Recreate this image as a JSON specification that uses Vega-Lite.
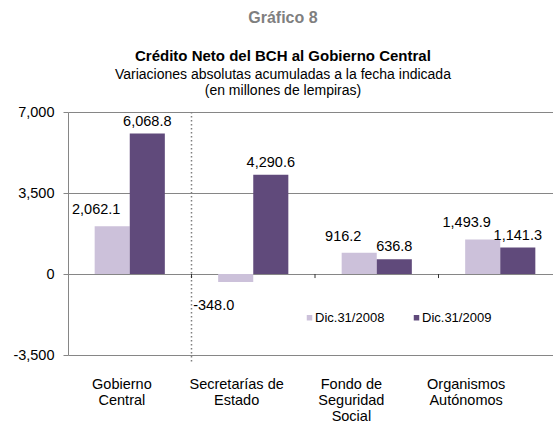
{
  "$schema": "https://vega.github.io/schema/vega-lite/v6.json",
  "padding": {"left": 12, "top": 10, "right": 0, "bottom": 0},
  "config": {
    "font": "Liberation Sans",
    "view": {"stroke": null},
    "locale": {"number": {"decimal": ".", "thousands": ",", "grouping": [3], "currency": ["$", ""], "minus": "-"}}
  },
  "title": {
    "text": "Gráfico 8",
    "font": "Liberation Sans",
    "fontSize": 16,
    "fontWeight": "bold",
    "color": "#7f7f7f",
    "anchor": "middle",
    "frame": "bounds",
    "offset": 23
  },
  "datasets": {
    "credito": [
      {"cat": "Gobierno Central", "serie": "Dic.31/2008", "value": 2062.1},
      {"cat": "Gobierno Central", "serie": "Dic.31/2009", "value": 6068.8},
      {"cat": "Secretarías de Estado", "serie": "Dic.31/2008", "value": -348.0},
      {"cat": "Secretarías de Estado", "serie": "Dic.31/2009", "value": 4290.6},
      {"cat": "Fondo de Seguridad Social", "serie": "Dic.31/2008", "value": 916.2},
      {"cat": "Fondo de Seguridad Social", "serie": "Dic.31/2009", "value": 636.8},
      {"cat": "Organismos Autónomos", "serie": "Dic.31/2008", "value": 1493.9},
      {"cat": "Organismos Autónomos", "serie": "Dic.31/2009", "value": 1141.3}
    ],
    "separador": [{"cat": "Gobierno Central"}],
    "marcas": [
      {"cat": "Secretarías de Estado"},
      {"cat": "Fondo de Seguridad Social"},
      {"cat": "Organismos Autónomos"}
    ]
  },
  "vconcat": [
    {
      "width": 485,
      "height": 243,
      "title": {
        "text": "Crédito Neto del BCH al Gobierno Central",
        "subtitle": ["Variaciones absolutas acumuladas a la fecha indicada", "(en millones de lempiras)"],
        "fontSize": 15,
        "fontWeight": "bold",
        "color": "black",
        "subtitleFontSize": 14,
        "subtitleColor": "black",
        "subtitleLineHeight": 16,
        "subtitlePadding": 4,
        "anchor": "middle",
        "frame": "bounds",
        "offset": 6
      },
      "data": {"name": "credito"},
      "resolve": {"scale": {"x": "independent"}},
      "layer": [
        {
          "encoding": {
            "x": {
              "field": "cat",
              "type": "nominal",
              "scale": {
                "domain": ["Gobierno Central", "Secretarías de Estado", "Fondo de Seguridad Social", "Organismos Autónomos"],
                "range": [0, 494],
                "paddingInner": 0,
                "paddingOuter": 0
              },
              "axis": null
            }
          },
          "layer": [
            {
              "mark": {"type": "bar"},
              "encoding": {
                "xOffset": {
                  "field": "serie",
                  "type": "nominal",
                  "scale": {"domain": ["Dic.31/2008", "Dic.31/2009"], "paddingInner": 0, "paddingOuter": 0.76}
                },
                "y": {
                  "field": "value",
                  "type": "quantitative",
                  "scale": {"domain": [-3500, 7000], "nice": false, "zero": false},
                  "axis": {
                    "title": null,
                    "values": [-3500, 0, 3500, 7000],
                    "format": ",.0f",
                    "labelFontSize": 14.5,
                    "labelColor": "black",
                    "labelPadding": 9,
                    "tickSize": 5,
                    "tickColor": "#868686",
                    "domainColor": "#868686",
                    "gridColor": "#868686",
                    "grid": true
                  }
                },
                "color": {
                  "field": "serie",
                  "type": "nominal",
                  "scale": {"domain": ["Dic.31/2008", "Dic.31/2009"], "range": ["#CCC1DA", "#604A7B"]},
                  "legend": {
                    "title": null,
                    "orient": "none",
                    "legendX": 235,
                    "legendY": 199,
                    "direction": "horizontal",
                    "symbolType": "square",
                    "symbolSize": 30,
                    "symbolStrokeWidth": 0,
                    "labelFontSize": 13,
                    "labelColor": "black",
                    "labelOffset": -1,
                    "columnPadding": 25,
                    "padding": 0
                  }
                }
              }
            },
            {
              "data": {"name": "separador"},
              "mark": {"type": "rule", "color": "#7f7f7f", "strokeWidth": 1.5, "strokeDash": [1.5, 2.5]},
              "encoding": {
                "x": {"field": "cat", "type": "nominal", "bandPosition": 1},
                "y": {"datum": 7000},
                "y2": {"datum": -3850}
              }
            },
            {
              "data": {"name": "marcas"},
              "mark": {"type": "rule", "color": "#333333", "strokeWidth": 1},
              "encoding": {
                "x": {"field": "cat", "type": "nominal", "bandPosition": 0},
                "y": {"datum": 0},
                "y2": {"datum": -175}
              }
            },
            {
              "mark": {"type": "rule", "color": "#333333", "strokeWidth": 1},
              "encoding": {"y": {"datum": 0}}
            },
            {
              "transform": [{"filter": "datum.serie == 'Dic.31/2008' && datum.value > 0"}],
              "mark": {"type": "text", "fontSize": 14.5, "baseline": "alphabetic", "dx": -16, "dy": -12, "color": "black"},
              "encoding": {
                "xOffset": {"field": "serie", "type": "nominal"},
                "y": {"field": "value", "type": "quantitative"},
                "text": {"field": "value", "type": "quantitative", "format": ",.1f"}
              }
            },
            {
              "transform": [{"filter": "datum.serie == 'Dic.31/2008' && datum.value < 0"}],
              "mark": {"type": "text", "fontSize": 14.5, "baseline": "alphabetic", "dx": -22, "dy": 28, "color": "black"},
              "encoding": {
                "xOffset": {"field": "serie", "type": "nominal"},
                "y": {"field": "value", "type": "quantitative"},
                "text": {"field": "value", "type": "quantitative", "format": ",.1f"}
              }
            },
            {
              "transform": [{"filter": "datum.serie == 'Dic.31/2009'"}],
              "mark": {"type": "text", "fontSize": 14.5, "baseline": "alphabetic", "dx": 0, "dy": -8, "color": "black"},
              "encoding": {
                "xOffset": {"field": "serie", "type": "nominal"},
                "y": {"field": "value", "type": "quantitative"},
                "text": {"field": "value", "type": "quantitative", "format": ",.1f"}
              }
            }
          ]
        },
        {
          "mark": {"type": "point", "opacity": 0},
          "encoding": {
            "x": {
              "field": "cat",
              "type": "nominal",
              "scale": {
                "domain": ["Gobierno Central", "Secretarías de Estado", "Fondo de Seguridad Social", "Organismos Autónomos"],
                "range": [-4, 455],
                "paddingInner": 0,
                "paddingOuter": 0
              },
              "axis": {
                "title": null,
                "orient": "bottom",
                "domain": false,
                "ticks": false,
                "grid": false,
                "labelAngle": 0,
                "labelFontSize": 14.5,
                "labelColor": "black",
                "labelPadding": 22,
                "labelLineHeight": 16,
                "labelOverlap": false,
                "labelExpr": "datum.value == 'Gobierno Central' ? ['Gobierno','Central'] : datum.value == 'Secretarías de Estado' ? ['Secretarías de','Estado'] : datum.value == 'Fondo de Seguridad Social' ? ['Fondo de','Seguridad','Social'] : ['Organismos','Autónomos']"
              }
            }
          }
        }
      ]
    }
  ]
}
